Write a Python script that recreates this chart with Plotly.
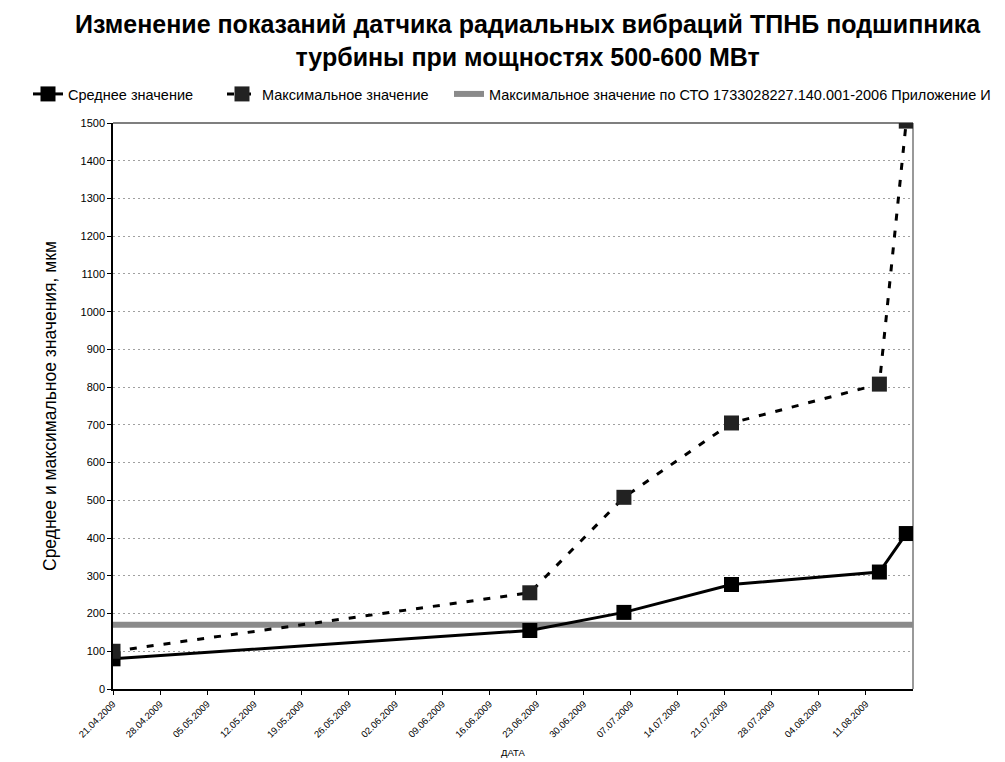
import plotly.graph_objects as go

dates = ["2009-04-21", "2009-06-22", "2009-07-06", "2009-07-22", "2009-08-13", "2009-08-17"]
mean_vals = [80, 155, 203, 277, 310, 412]
max_vals = [100, 255, 508, 705, 808, 1505]
limit_dates = ["2009-04-21", "2009-08-18"]
limit_vals = [170, 170]

tick_dates = ["2009-04-21", "2009-04-28", "2009-05-05", "2009-05-12", "2009-05-19",
              "2009-05-26", "2009-06-02", "2009-06-09", "2009-06-16", "2009-06-23",
              "2009-06-30", "2009-07-07", "2009-07-14", "2009-07-21", "2009-07-28",
              "2009-08-04", "2009-08-11"]
tick_labels = ["21.04.2009", "28.04.2009", "05.05.2009", "12.05.2009", "19.05.2009",
               "26.05.2009", "02.06.2009", "09.06.2009", "16.06.2009", "23.06.2009",
               "30.06.2009", "07.07.2009", "14.07.2009", "21.07.2009", "28.07.2009",
               "04.08.2009", "11.08.2009"]
y_ticks = list(range(0, 1501, 100))

FONT = "Liberation Sans, Arial, sans-serif"

fig = go.Figure()
fig.add_trace(go.Scatter(
    x=limit_dates, y=limit_vals,
    name="Максимальное значение по СТО 1733028227.140.001-2006 Приложение И",
    mode="lines", line=dict(color="#8a8a8a", width=6), legend="legend3",
))
fig.add_trace(go.Scatter(
    x=dates, y=mean_vals, name="Среднее значение", mode="lines+markers",
    line=dict(color="black", width=3),
    marker=dict(symbol="square", size=15, color="black"), legend="legend",
))
fig.add_trace(go.Scatter(
    x=dates, y=max_vals, name="Максимальное значение", mode="lines+markers",
    line=dict(color="black", width=3, dash="7px,10px"),
    marker=dict(symbol="square", size=15, color="#222222"), legend="legend2",
))

LEG_Y = 1 - 94 / 762


def leg(xpx):
    return dict(
        orientation="h", xref="container", yref="container",
        x=xpx / 1005, y=LEG_Y, xanchor="left", yanchor="middle",
        font=dict(size=14.5, family=FONT), bgcolor="rgba(0,0,0,0)",
        itemwidth=30,
    )


fig.update_layout(
    width=1005, height=762,
    margin=dict(l=113, r=92, t=123, b=73, autoexpand=False),
    paper_bgcolor="white", plot_bgcolor="white",
    font=dict(family=FONT, color="black"),
    title=dict(
        text="<b>Изменение показаний датчика радиальных вибраций ТПНБ подшипника<br>турбины при мощностях 500-600 МВт</b>",
        x=0.525, xanchor="center", yref="container", y=1 - 33 / 762, yanchor="middle",
        font=dict(size=25, family=FONT),
    ),
    showlegend=True,
    legend=leg(28),
    legend2=leg(222),
    legend3=leg(449),
    xaxis=dict(
        type="date", range=["2009-04-21", "2009-08-18"],
        tickvals=tick_dates, ticktext=tick_labels, tickangle=-45,
        tickfont=dict(size=9.5), showgrid=False,
        showline=True, linecolor="black", linewidth=1.5,
        ticks="outside", ticklen=4, tickcolor="black",
        title=dict(text="ДАТА", font=dict(size=9.5), standoff=11),
        zeroline=False, automargin=False,
    ),
    yaxis=dict(
        range=[0, 1500], tickvals=y_ticks, tickfont=dict(size=11),
        showgrid=True, gridcolor="#a0a0a0", griddash="2px,3px", gridwidth=1,
        showline=True, linecolor="black", linewidth=1.5,
        ticks="outside", ticklen=4, tickcolor="black",
        title=dict(text="Среднее и максимальное значения, мкм", font=dict(size=17.5), standoff=19),
        zeroline=False, automargin=False,
    ),
    shapes=[
        dict(type="line", xref="paper", yref="paper", x0=0, x1=1, y0=1, y1=1,
             line=dict(color="#555555", width=1.5), layer="below"),
        dict(type="line", xref="paper", yref="paper", x0=1, x1=1, y0=0, y1=1,
             line=dict(color="#777777", width=1.5), layer="below"),
    ],
)

fig.write_html("out.html", config={"displayModeBar": False},
               post_script="document.body.style.margin='0';")
